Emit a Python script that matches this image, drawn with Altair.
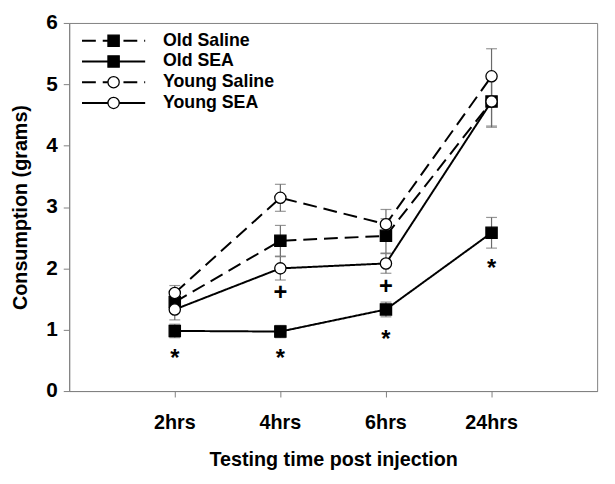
import altair as alt
import pandas as pd

times = ["2hrs", "4hrs", "6hrs", "24hrs"]
series_names = ["Old Saline", "Old SEA", "Young Saline", "Young SEA"]

old_saline = [1.45, 2.45, 2.53, 4.72]
old_saline_err = [0.12, 0.25, 0.28, 0.40]
old_sea = [0.98, 0.97, 1.33, 2.58]
old_sea_err = [0.11, 0.10, 0.12, 0.25]
young_saline = [1.60, 3.15, 2.72, 5.13]
young_saline_err = [0.12, 0.22, 0.24, 0.45]
young_sea = [1.33, 2.00, 2.08, 4.72]
young_sea_err = [0.17, 0.19, 0.16, 0.42]

star_times = ["2hrs", "4hrs", "6hrs", "24hrs"]
star_y = [0.58, 0.58, 0.90, 2.06]
plus_times = ["4hrs", "6hrs"]
plus_y = [1.66, 1.76]

values = [old_saline, old_sea, young_saline, young_sea]
errors = [old_saline_err, old_sea_err, young_saline_err, young_sea_err]

rows = []
for name, vals, errs in zip(series_names, values, errors):
    for t, v, e in zip(times, vals, errs):
        rows.append({"series": name, "time": t, "value": v, "lo": v - e, "hi": v + e})
df = pd.DataFrame(rows)

ann = pd.DataFrame(
    [{"time": t, "y": y, "label": "*"} for t, y in zip(star_times, star_y)]
    + [{"time": t, "y": y, "label": "+"} for t, y in zip(plus_times, plus_y)]
)
legend_df = pd.DataFrame({"series": series_names})

FONT = "Liberation Sans"
GRAY = "#808080"

dash_scale = alt.Scale(domain=series_names, range=[[14, 7], [1, 0], [14, 7], [1, 0]])
shape_scale = alt.Scale(domain=series_names, range=["square", "square", "circle", "circle"])
fill_scale = alt.Scale(domain=series_names, range=["black", "black", "white", "white"])

x_enc = alt.X(
    "time:N", sort=times, scale=alt.Scale(padding=1),
    axis=alt.Axis(title="Testing time post injection", labelAngle=0, labelFontSize=20,
                  labelFontWeight="bold", titleFontSize=20, titleFontWeight="bold",
                  labelPadding=16, titlePadding=17, tickSize=6),
)
y_scale = alt.Scale(domain=[0, 6], nice=False)
y_enc = alt.Y(
    "value:Q", scale=y_scale,
    axis=alt.Axis(title="Consumption (grams)", values=[0, 1, 2, 3, 4, 5, 6], format="d", grid=False,
                  labelFontSize=21, labelFontWeight="bold", titleFontSize=20,
                  titleFontWeight="bold", labelPadding=6, titlePadding=16, tickSize=6),
)

base = alt.Chart(df)

err_rule = base.mark_rule(color="#6a6a6a", strokeWidth=1.2).encode(
    x=x_enc, y=alt.Y("lo:Q", scale=y_scale), y2="hi:Q")
cap_lo = base.mark_tick(color="#6a6a6a", size=11, thickness=1.2, orient="horizontal").encode(
    x=x_enc, y=alt.Y("lo:Q", scale=y_scale))
cap_hi = base.mark_tick(color="#6a6a6a", size=11, thickness=1.2, orient="horizontal").encode(
    x=x_enc, y=alt.Y("hi:Q", scale=y_scale))

lines = base.mark_line(color="black", strokeWidth=2).encode(
    x=x_enc, y=y_enc, detail="series:N",
    strokeDash=alt.StrokeDash("series:N", scale=dash_scale, legend=None))

points = base.mark_point(filled=True, stroke="black", strokeWidth=1.3, size=130, opacity=1).encode(
    x=x_enc, y=y_enc,
    shape=alt.Shape("series:N", scale=shape_scale, legend=None),
    fill=alt.Fill("series:N", scale=fill_scale, legend=None))

texts = alt.Chart(ann).mark_text(font=FONT, fontSize=24, fontWeight="bold", color="black",
                                 baseline="middle", dy=4).encode(
    x=alt.X("time:N", sort=times), y=alt.Y("y:Q", scale=y_scale), text="label:N")

main = alt.layer(err_rule, cap_lo, cap_hi, lines, points, texts)

leg_y = alt.Y("series:N", sort=series_names, scale=alt.Scale(type="point", range=[18, 81], padding=0), axis=None)
leg_rule = alt.Chart(legend_df).mark_rule(color="black", strokeWidth=2).encode(
    x=alt.value(13), x2=alt.value(77), y=leg_y,
    strokeDash=alt.StrokeDash("series:N", scale=dash_scale, legend=None))
leg_pt = alt.Chart(legend_df).mark_point(filled=True, stroke="black", strokeWidth=1.3, size=130, opacity=1).encode(
    x=alt.value(45), y=leg_y,
    shape=alt.Shape("series:N", scale=shape_scale, legend=None),
    fill=alt.Fill("series:N", scale=fill_scale, legend=None))
leg_text = alt.Chart(legend_df).mark_text(font=FONT, fontSize=18, fontWeight="bold", align="left",
                                          baseline="middle", color="black").encode(
    x=alt.value(95), y=leg_y, text="series:N")
legend = alt.layer(leg_rule, leg_pt, leg_text)

chart = alt.layer(main, legend).resolve_scale(y="independent").properties(
    width=535, height=373,
    autosize=alt.AutoSizeParams(type="none"),
    padding={"left": 62, "top": 12, "right": 10, "bottom": 90},
).configure(font=FONT).configure_view(stroke=GRAY, strokeWidth=1).configure_axis(
    domainColor=GRAY, tickColor=GRAY, labelColor="black", titleColor="black", labelFont=FONT, titleFont=FONT
)

chart.save("out.html", embed_options={"renderer": "svg", "actions": False})
